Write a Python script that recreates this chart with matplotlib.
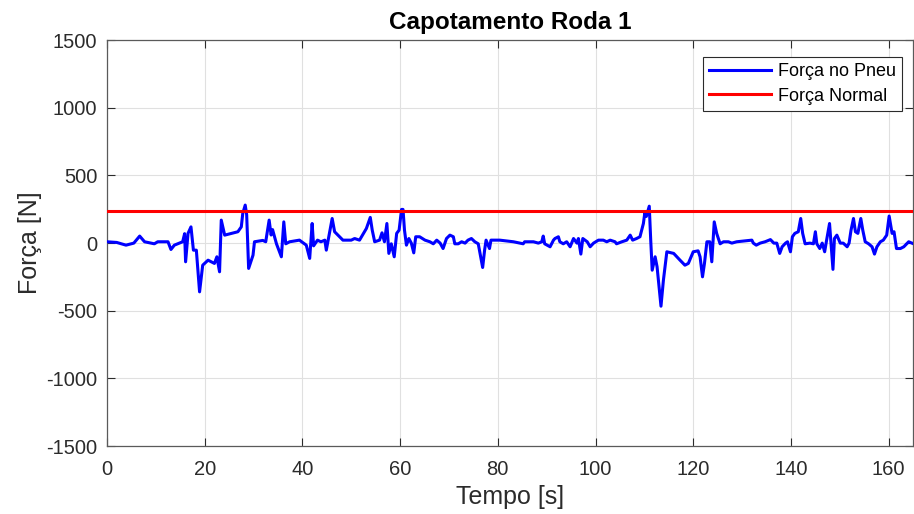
import matplotlib
matplotlib.use("Agg")
import matplotlib.pyplot as plt
import numpy as np

plt.rcParams['font.family'] = ['Liberation Sans', 'DejaVu Sans']
plt.rcParams['axes.unicode_minus'] = False

# Tyre force over time (s, N)
tempo = [0.0, 2.0, 3.9, 5.5, 6.7, 7.7, 9.7, 10.4, 12.5, 13.1, 13.8, 15.5, 15.9, 16.1, 16.6,
         17.2, 17.7, 18.3, 18.96, 19.6, 20.7, 22.0, 22.5, 23.05, 23.4, 24.1, 26.8, 27.5,
         27.8, 28.3, 28.6, 29.0, 29.9, 30.2, 31.9, 32.5, 33.2, 33.6, 33.9, 34.7, 35.7, 36.2,
         36.6, 37.4, 39.4, 40.8, 41.5, 42.0, 42.3, 43.1, 43.8, 44.6, 44.9, 45.4, 46.1, 46.6,
         48.3, 50.0, 50.7, 51.7, 53.1, 53.9, 54.3, 54.8, 55.8, 56.3, 56.8, 57.3, 57.7, 58.2,
         58.8, 59.3, 59.8, 60.3, 60.6, 60.9, 61.3, 61.8, 62.3, 62.8, 63.2, 64.0, 65.1, 66.1,
         66.8, 67.5, 68.2, 68.8, 69.5, 70.2, 70.9, 71.2, 71.9, 72.6, 73.3, 73.9, 74.6, 75.3,
         76.0, 76.9, 77.3, 77.6, 78.3, 78.6, 80.4, 83.2, 85.2, 85.5, 87.3, 88.3, 89.0, 89.3,
         89.6, 90.7, 91.4, 91.7, 92.4, 92.7, 93.4, 94.1, 94.8, 95.5, 96.2, 96.5, 97.0, 97.4,
         98.3, 98.9, 99.6, 100.6, 101.6, 102.3, 103.0, 104.0, 104.3, 105.4, 106.4, 107.1,
         107.6, 108.4, 109.1, 109.8, 110.1, 110.4, 111.0, 111.3, 111.6, 112.2, 112.6, 113.4,
         113.9, 114.6, 116.0, 117.3, 118.3, 119.0, 120.0, 121.0, 121.4, 121.9, 122.3, 122.8,
         123.4, 123.8, 124.3, 124.8, 125.5, 126.2, 127.2, 127.9, 128.9, 132.0, 132.3, 132.9,
         133.7, 134.7, 135.8, 136.5, 137.1, 137.7, 138.2, 138.9, 139.3, 139.9, 140.3, 140.8,
         141.5, 142.0, 142.4, 142.9, 143.9, 144.6, 145.0, 145.3, 145.9, 146.4, 146.9, 147.3,
         147.9, 148.2, 148.6, 148.9, 149.4, 150.1, 150.7, 151.5, 151.9, 152.3, 152.8, 153.2,
         153.7, 154.3, 154.7, 155.2, 155.9, 156.6, 157.1, 157.6, 158.3, 158.9, 159.6, 160.1,
         160.7, 161.1, 161.6, 162.4, 163.1, 164.1, 165.1]
forca_pneu = [10, 5, -15, 0, 52, 10, -5, 10, 10, -47, -15, 10, 70, -138, 72,
              120, -52, -52, -360, -163, -126, -150, -101, -212, 170, 59, 84, 120,
              219, 281, 210, -187, -89, 10, 20, 10, 170, 60, 100, -5, -101, 157,
              -5, 10, 22, -15, -113, 145, -20, 22, 10, 22, -52, 47, 182, 84,
              22, 22, 34, 22, 108, 190, 96, 10, 22, 76, 10, 145, -76, -5,
              -101, 72, 96, 249, 249, 96, -15, 34, 0, -72, 47, 47, 22, 10,
              -5, 22, 0, -40, 34, 59, 47, -5, -5, 10, 0, 22, 34, 10,
              -5, -180, -52, 22, -40, 22, 22, 10, -5, 10, 10, 0, 10, 52,
              -5, -27, 22, 34, 47, 10, -5, 10, -27, 34, 0, 34, -81, 34,
              10, -27, 0, 22, 22, 10, 22, 10, -5, 10, 22, 59,
              22, 34, 47, 145, 226, 197, 273, 22, -200, -101, -175, -466,
              -273, -64, -76, -126, -163, -150, -64, -57, -101, -249, -150, 10,
              10, -138, 157, 72, -5, 10, 10, 0, 10, 22, 0, -15,
              0, 10, 26, 0, 0, -76, -27, 0, 10, -64, 47, 72,
              84, 182, 72, -5, 0, -5, 84, -5, -40, 0, -64, 22,
              145, 0, -194, 34, 59, 0, 0, -27, 0, 96, 182, 84,
              72, 182, 96, 10, -5, -27, -81, -27, 10, 22, 59, 200,
              72, 84, -40, -40, -27, 10, -5]
forca_normal = 240

fig = plt.figure(figsize=(9.14, 5.14), dpi=100)
ax = fig.add_axes([0.117, 0.132, 0.882, 0.79])

ax.plot(tempo, forca_pneu, color='#0000ff', lw=2.2, label='Força no Pneu', zorder=3)
ax.axhline(forca_normal, color='#ff0000', lw=2.2, label='Força Normal', zorder=3)

ax.set_xlim(0, 165)
ax.set_ylim(-1500, 1500)
ax.set_xticks(np.arange(0, 161, 20))
ax.set_yticks(np.arange(-1500, 1501, 500))

ax.grid(True, color='#e0e0e0', lw=0.8)
ax.set_axisbelow(True)
for s in ax.spines.values():
    s.set_color('#5a5a5a')
    s.set_linewidth(0.9)
ax.tick_params(direction='in', length=6, width=0.8, labelsize=14.5, colors='#2b2b2b',
               top=True, right=True)
ax.tick_params(axis='y', pad=7)
ax.tick_params(axis='x', pad=10)

ax.set_title('Capotamento Roda 1', fontsize=17.5, fontweight='bold', pad=8)
ax.set_xlabel('Tempo [s]', fontsize=18, color='#2b2b2b', labelpad=4)
ax.set_ylabel('Força [N]', fontsize=18, color='#2b2b2b', labelpad=3)

leg = ax.legend(loc='upper right', bbox_to_anchor=(0.9864, 0.958), fontsize=13,
                fancybox=False, framealpha=1, edgecolor='#2b2b2b', handlelength=3.4,
                borderpad=0.35, labelspacing=0.4, borderaxespad=0, handletextpad=0.4)
leg.get_frame().set_linewidth(0.8)

fig.savefig('out.png', dpi=100)
